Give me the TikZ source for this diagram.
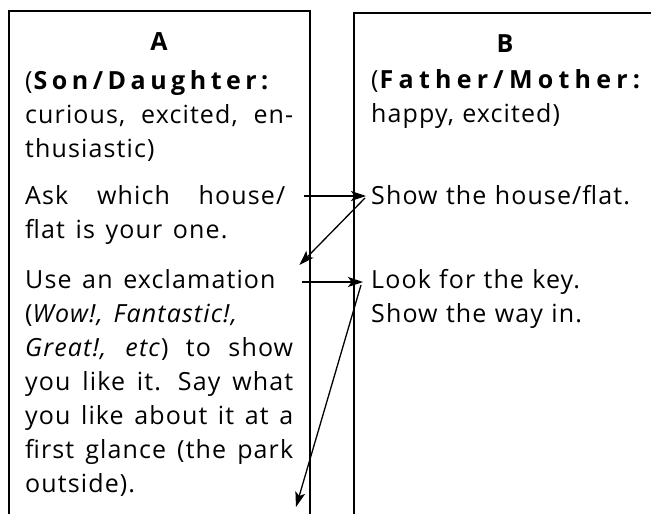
\documentclass[tikz,border=0pt]{standalone}
\usepackage{fontspec}
\setmainfont{Open Sans}[LetterSpace=4.5,WordSpace=1.4]
\usetikzlibrary{arrows.meta}

\tikzset{
    box/.style={line width=1.6pt},
    txt/.style={anchor=base west, inner sep=0pt, font=\fontsize{25}{34}\selectfont},
    head/.style={anchor=base, inner sep=0pt, font=\fontsize{25}{34}\selectfont\bfseries},
    arr/.style={line width=1.3pt, -{Stealth[length=15pt,width=10pt,inset=3.5pt]}}
}

\begin{document}
\begin{tikzpicture}[x=1pt, y=-1pt]
    \useasboundingbox (0,0) rectangle (651,514);
    \draw[box] (9,514) |- (310,11) -- (310,514);
    \draw[box] (354,514) |- (651,13);

    \node[head] (titleA) at (159,50) {A};
    \node[txt, text width=268pt, align=justify] (roleA) at (25,89)
        {(\textbf{\addfontfeature{LetterSpace=18}Son/Daughter:}\linebreak curious, excited, en-\linebreak thusiastic)};
    \node[txt, text width=260pt, align=justify] (askA) at (25,204)
        {Ask which house/\linebreak flat is your one.};
    \node[txt, text width=268pt, align=justify] (exclA) at (25,288)
        {Use an exclamation\\ (\textit{Wow!, Fantastic!,}\\ \textit{Great!, etc}) to show\linebreak you like it. Say what\linebreak you like about it at a\linebreak first glance (the park\linebreak outside).};

    \node[head] (titleB) at (505,52) {B};
    \node[txt, text width=266pt, align=left] (roleB) at (371,88)
        {(\textbf{\addfontfeature{LetterSpace=21}Father/Mother:}\\ happy, excited)};
    \node[txt, text width=266pt, align=left] (showB) at (371,204) {Show the house/flat.};
    \node[txt, text width=266pt, align=left] (keyB) at (371,288) {Look for the key.\\ Show the way in.};

    \coordinate (nextA) at (296,507);

    \draw[arr] ([shift={(19pt,8pt)}]askA.base east) -- ([shift={(-5pt,8pt)}]showB.base west);
    \draw[arr] ([shift={(-6pt,6pt)}]showB.base west) -- ([shift={(6pt,23pt)}]exclA.base east);
    \draw[arr] ([shift={(9pt,6pt)}]exclA.base east) -- ([shift={(-8pt,6pt)}]keyB.base west);
    \draw[arr] ([shift={(-10pt,3pt)}]keyB.base west) -- (nextA);
\end{tikzpicture}
\end{document}
